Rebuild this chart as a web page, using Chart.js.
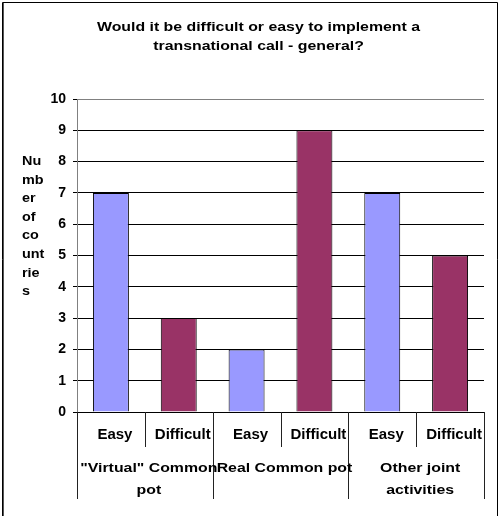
<!DOCTYPE html>
<html>
<head>
<meta charset="utf-8">
<script src="https://cdn.jsdelivr.net/npm/chart.js@4/dist/chart.umd.min.js"></script>
<style>
  html, body { margin: 0; padding: 0; background: #fff; }
  canvas { display: block; }
</style>
</head>
<body>
<canvas id="c" width="499" height="516"></canvas>
<script>
// Chart text and values
const chartTitle = ['Would it be difficult or easy to implement a', 'transnational call - general?'];
const yAxisTitle = ['Nu', 'mb', 'er', 'of', 'co', 'unt', 'rie', 's'];
const answers = ['Easy', 'Difficult', 'Easy', 'Difficult', 'Easy', 'Difficult'];
const groups = [['"Virtual" Common', 'pot'], ['Real Common pot'], ['Other joint', 'activities']];
const countries = [7, 3, 2, 9, 7, 5];
const yMin = 0, yMax = 10, yStep = 1;

const answerColors = { 'Easy': '#9999FF', 'Difficult': '#993366' };
const FONT = '"Liberation Sans", Arial, sans-serif';

// text drawn slightly widened, like the rest of the sheet's lettering
function wideText(ctx, text, x, y, size, align, sx) {
  ctx.save();
  ctx.font = 'bold ' + size + 'px ' + FONT;
  ctx.fillStyle = '#000';
  ctx.textAlign = align;
  ctx.textBaseline = 'alphabetic';
  ctx.translate(x, y);
  ctx.scale(sx, 1);
  ctx.fillText(text, 0, 0);
  ctx.restore();
}

const decor = {
  id: 'decor',
  beforeDraw(chart) {
    const ctx = chart.ctx;
    ctx.save();
    ctx.fillStyle = '#fff';
    ctx.fillRect(0, 0, chart.width, chart.height);
    ctx.strokeStyle = '#000';
    ctx.lineWidth = 1;
    ctx.beginPath();
    ctx.moveTo(2.5, chart.height + 5);
    ctx.lineTo(2.5, 2.5);
    ctx.lineTo(497.5, 2.5);
    ctx.lineTo(497.5, chart.height + 5);
    ctx.stroke();
    ctx.strokeStyle = '#555';
    ctx.beginPath();
    ctx.moveTo(3.5, chart.height + 5);
    ctx.lineTo(3.5, 3);
    ctx.stroke();
    ctx.restore();
  },
  afterDraw(chart) {
    const ctx = chart.ctx;
    const x = chart.scales.x;
    const area = chart.chartArea;

    // title, centred on the whole sheet
    const cx = chart.width / 2 + 9;
    wideText(ctx, chartTitle[0], cx, 31, 12.7, 'center', 1.25);
    wideText(ctx, chartTitle[1], cx, 50, 12.7, 'center', 1.25);

    // stacked y-axis title
    yAxisTitle.forEach((t, i) => {
      wideText(ctx, t, 22, 165 + i * 18.6, 12, 'left', 1.2);
    });

    // category separators under the axis
    const n = answers.length;
    const half = (x.getPixelForValue(1) - x.getPixelForValue(0)) / 2;
    ctx.save();
    ctx.strokeStyle = '#222';
    ctx.lineWidth = 1;
    for (let i = 0; i <= n; i++) {
      const px = Math.round(i < n ? x.getPixelForValue(i) - half : x.getPixelForValue(n - 1) + half) + 0.5;
      const long = (i % 2 === 0);
      ctx.beginPath();
      ctx.moveTo(px, area.bottom);
      ctx.lineTo(px, long ? 499 : 447);
      ctx.stroke();
    }
    ctx.restore();

    // group labels
    groups.forEach((lines, g) => {
      const gx = (x.getPixelForValue(2 * g) + x.getPixelForValue(2 * g + 1)) / 2 + 4;
      lines.forEach((t, k) => {
        wideText(ctx, t, gx, 472 + k * 22, 12.7, 'center', 1.25);
      });
    });
  }
};

new Chart(document.getElementById('c'), {
  type: 'bar',
  data: {
    labels: answers,
    datasets: [{
      data: countries,
      backgroundColor: answers.map(a => answerColors[a]),
      borderColor: '#000',
      borderWidth: 1,
      categoryPercentage: 1,
      barPercentage: 0.53
    }]
  },
  options: {
    responsive: false,
    animation: false,
    layout: { padding: { top: 99, right: 15, left: 0, bottom: 0 } },
    plugins: { legend: { display: false }, tooltip: { enabled: false }, title: { display: false } },
    scales: {
      x: {
        grid: { offset: true, drawOnChartArea: false, drawTicks: false },
        border: { color: '#000' },
        ticks: {
          color: '#000',
          font: { family: FONT, size: 15, weight: 'bold' },
          padding: 14,
          labelOffset: 4,
          maxRotation: 0,
          autoSkip: false
        },
        afterFit(s) { s.height = 104; }
      },
      y: {
        min: yMin,
        max: yMax,
        ticks: {
          stepSize: yStep,
          color: '#000',
          font: { family: FONT, size: 14, weight: 'bold' },
          padding: 7
        },
        grid: {
          color: c => (c.tick && c.tick.value === yMax) ? '#808080' : '#000',
          tickLength: 4,
          tickColor: '#000'
        },
        border: { color: '#808080' },
        afterFit(s) { s.width = 77; }
      }
    }
  },
  plugins: [decor]
});
</script>
</body>
</html>
